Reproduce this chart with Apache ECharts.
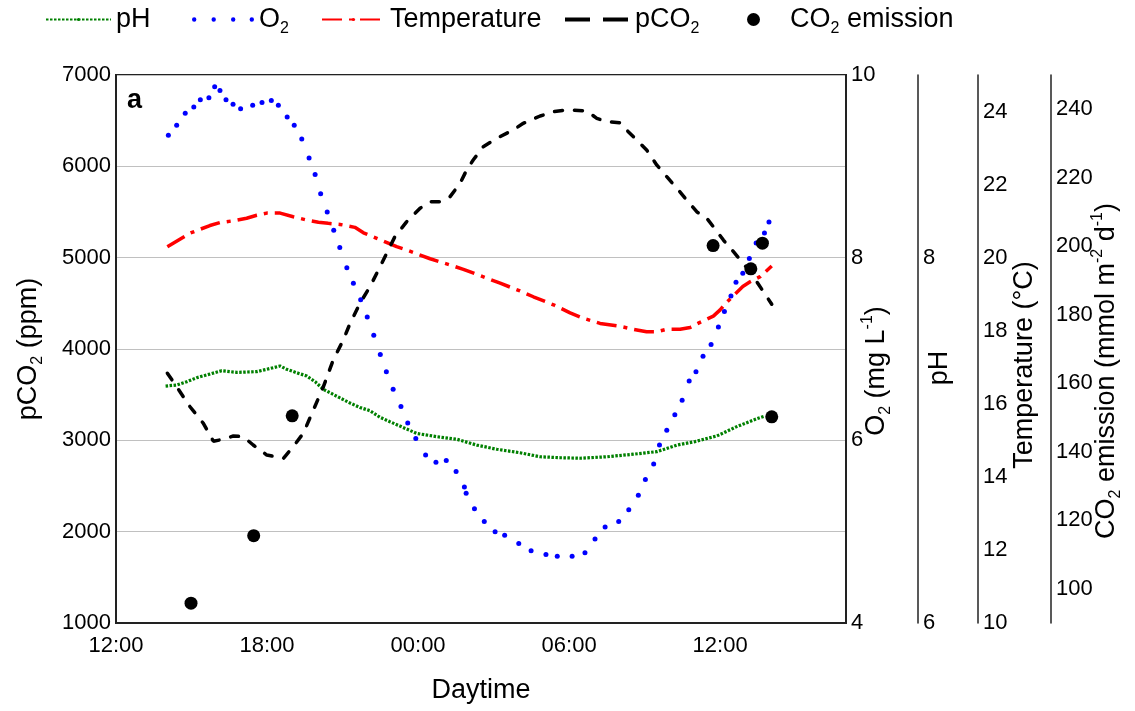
<!DOCTYPE html>
<html><head><meta charset="utf-8">
<script src="https://cdn.jsdelivr.net/npm/echarts@6/dist/echarts.min.js"></script>
<style>html,body{margin:0;padding:0;background:#fff}#c{width:1135px;height:711px}</style>
</head><body><div id="c"></div>
<script>
const FONT = "'Liberation Sans', Arial, sans-serif";

// x: hours after 12:00 of day 1
const xTickHours = [0, 6, 12, 18, 24];
const xTickLabels = ['12:00', '18:00', '00:00', '06:00', '12:00'];

const phHours = [1.97,2.41,2.81,3.21,3.60,4.20,4.80,5.59,5.99,6.52,6.78,7.18,7.58,7.91,8.24,8.50,8.90,9.30,9.69,10.09,10.49,10.88,11.28,11.95,12.74,13.54,14.33,15.13,16.05,16.85,17.64,18.43,19.50,20.55,21.48,22.28,23.00,23.87,24.66,25.45,25.78];
const phValues = [7.297,7.303,7.321,7.343,7.358,7.381,7.372,7.376,7.389,7.407,7.389,7.370,7.352,7.321,7.279,7.261,7.232,7.204,7.180,7.162,7.126,7.102,7.078,7.038,7.020,7.006,6.974,6.951,6.932,6.910,6.905,6.902,6.910,6.924,6.938,6.974,6.993,7.024,7.075,7.118,7.133];

const o2Hours = [2.08,2.41,2.75,3.09,3.35,3.69,3.92,4.13,4.37,4.65,4.95,5.43,5.80,6.17,6.45,6.80,7.08,7.38,7.67,7.91,8.13,8.39,8.65,8.89,9.17,9.43,9.72,9.98,10.24,10.50,10.74,11.01,11.32,11.59,11.91,12.30,12.71,13.12,13.51,13.84,13.91,14.24,14.63,15.06,15.44,16.00,16.49,17.08,17.53,18.12,18.63,19.03,19.43,19.97,20.37,20.75,21.03,21.36,21.59,21.88,22.20,22.49,22.77,23.04,23.32,23.64,23.93,24.17,24.43,24.63,24.90,25.16,25.43,25.76,25.94];
const o2Values = [9.34,9.45,9.58,9.65,9.73,9.75,9.87,9.83,9.73,9.68,9.63,9.67,9.70,9.72,9.67,9.54,9.45,9.30,9.09,8.91,8.70,8.50,8.30,8.11,7.89,7.72,7.54,7.35,7.15,6.94,6.75,6.56,6.37,6.19,6.02,5.84,5.76,5.78,5.66,5.49,5.42,5.25,5.11,5.00,4.96,4.87,4.79,4.75,4.73,4.73,4.77,4.92,5.05,5.11,5.24,5.40,5.57,5.74,5.95,6.11,6.28,6.44,6.65,6.75,6.92,7.05,7.24,7.41,7.58,7.73,7.83,7.99,8.16,8.27,8.39];

const tempHours = [2.04,2.94,3.73,4.13,4.66,5.19,5.59,5.99,6.52,7.04,7.58,8.04,8.43,8.90,9.49,9.83,10.36,11.15,11.55,12.48,13.27,13.80,14.73,15.26,16.05,16.58,17.38,18.04,18.57,19.23,19.96,20.55,21.08,21.48,21.88,22.41,22.81,23.20,23.73,24.00,24.26,24.53,24.90,25.19,25.59,26.05];
const tempValues = [20.30,20.67,20.88,20.96,21.01,21.08,21.16,21.22,21.22,21.12,21.03,20.97,20.94,20.91,20.83,20.68,20.53,20.30,20.21,19.97,19.80,19.68,19.44,19.30,19.09,18.93,18.71,18.49,18.34,18.20,18.13,18.04,17.97,17.97,18.04,18.04,18.09,18.23,18.40,18.57,18.78,18.96,19.21,19.34,19.48,19.77];

const pco2Hours = [2.04,2.41,2.94,3.47,3.87,4.13,4.66,5.06,5.45,5.99,6.65,7.04,7.44,7.84,8.24,8.63,9.03,9.30,9.69,10.09,10.49,10.82,11.08,11.55,12.08,12.48,12.87,13.27,13.67,13.93,14.19,14.59,15.13,15.78,16.18,16.85,17.37,17.91,18.70,19.10,19.50,20.02,20.35,20.69,21.08,21.48,21.88,22.28,22.67,23.07,23.47,23.73,24.13,24.53,24.92,25.32,25.72,26.05];
const pco2Values = [3734,3587,3368,3186,2990,3004,3047,3040,2949,2839,2803,2930,3077,3332,3587,3880,4099,4281,4500,4682,4901,5084,5230,5394,5541,5613,5613,5668,5814,5960,6069,6215,6307,6398,6471,6551,6598,6617,6606,6526,6489,6478,6379,6288,6179,6015,5887,5760,5632,5503,5431,5339,5193,5065,4938,4792,4627,4490];

const emHours = [2.98,5.47,7.00,23.72,25.22,25.68,26.05];
const emValues = [95.8,115.5,150.5,200.2,193.4,200.9,150.2];

const zip = (a, b) => a.map((v, i) => [v, b[i]]);

const rich = {
  t: {fontSize: 27, fontFamily: FONT, color: '#000', lineHeight: 34},
  s: {fontSize: 16, fontFamily: FONT, color: '#000', lineHeight: 16, verticalAlign: 'bottom'},
  u: {fontSize: 16, fontFamily: FONT, color: '#000', lineHeight: 16, verticalAlign: 'top'},
  g: {width: 25}
};
const legendText = {
  'pH': '{t|pH}',
  'O2': '{t|O}{s|2}',
  'Temperature': '{t|Temperature}',
  'pCO2': '{t|pCO}{s|2}',
  'CO2 emission': '{g|}{t|CO}{s|2}{t| emission}'
};
const o2Icon = 'path://M0,2.2a2.2,2.2 0 1,0 4.4,0a2.2,2.2 0 1,0 -4.4,0z M19.5,2.2a2.2,2.2 0 1,0 4.4,0a2.2,2.2 0 1,0 -4.4,0z M39,2.2a2.2,2.2 0 1,0 4.4,0a2.2,2.2 0 1,0 -4.4,0z M57.6,2.2a2.2,2.2 0 1,0 4.4,0a2.2,2.2 0 1,0 -4.4,0z';
const pco2Icon = 'path://M0,0h25v4h-25z M38,0h25v4h-25z';

const labelStyle = {fontSize: 22, color: '#000', fontFamily: FONT};
const axLine = w => ({show: true, lineStyle: {color: '#222', width: w}});
const nameStyle = extra => Object.assign({rich: rich}, extra || {});

function legendBox(name, left, w, h, extra) {
  return Object.assign({
    data: [name], left: left, top: 6, itemWidth: w, itemHeight: h,
    selectedMode: false, padding: 0,
    formatter: n => legendText[n],
    textStyle: {rich: rich}
  }, extra || {});
}

const chart = echarts.init(document.getElementById('c'), null, {renderer: 'canvas'});
chart.setOption({
  animation: false,
  backgroundColor: '#fff',
  grid: {left: 116, right: 289, top: 75, bottom: 88, show: true, borderColor: '#222', borderWidth: 2, backgroundColor: 'transparent'},
  legend: [
    legendBox('pH', 45, 65, 4),
    legendBox({name: 'O2', icon: o2Icon}, 192, 62, 4.4),
    legendBox('Temperature', 321, 63, 4),
    legendBox({name: 'pCO2', icon: pco2Icon}, 565, 67, 4),
    legendBox('CO2 emission', 747, 13, 13)
  ],
  graphic: [{type: 'text', left: 127, top: 87, style: {text: 'a', font: 'bold 27px ' + FONT, fill: '#000'}}],
  xAxis: {
    type: 'value', min: 0, max: 29, interval: 6,
    axisLine: axLine(2), axisTick: {show: false}, splitLine: {show: false},
    axisLabel: Object.assign({margin: 12, formatter: v => { const i = xTickHours.indexOf(v); return i >= 0 ? xTickLabels[i] : ''; }}, labelStyle),
    name: '{t|Daytime}', nameLocation: 'middle', nameGap: 51, nameTextStyle: nameStyle(), nameMoveOverlap: false
  },
  yAxis: [
    {type: 'value', position: 'left', min: 1000, max: 7000, interval: 1000,
      axisLine: axLine(2), axisTick: {show: false},
      axisLabel: Object.assign({margin: 5, formatter: v => String(v)}, labelStyle),
      splitLine: {show: true, lineStyle: {color: '#c0c0c0', width: 1}},
      name: '{t|pCO}{s|2}{t| (ppm)}', nameLocation: 'middle', nameRotate: 90, nameGap: 70, nameTextStyle: nameStyle(), nameMoveOverlap: false},
    {type: 'value', position: 'right', offset: 0, min: 4, max: 10, interval: 2,
      axisLine: axLine(2), axisTick: {show: false}, splitLine: {show: false},
      axisLabel: Object.assign({margin: 5, formatter: v => String(v)}, labelStyle),
      name: '{t|O}{s|2}{t| (mg L}{u|-1}{t|)}', nameLocation: 'middle', nameRotate: 90, nameGap: 14, nameTextStyle: nameStyle({padding: [0, 44, 0, 0]}), nameMoveOverlap: false},
    {type: 'value', position: 'right', offset: 72, min: 6, max: 9, interval: 2,
      axisLine: axLine(1.5), axisTick: {show: false}, splitLine: {show: false},
      axisLabel: Object.assign({margin: 5, showMaxLabel: false, formatter: v => (v % 2 === 0 ? String(v) : '')}, labelStyle),
      name: '{t|pH}', nameLocation: 'middle', nameRotate: 90, nameGap: 5, nameTextStyle: nameStyle({padding: [0, 38, 0, 0]}), nameMoveOverlap: false},
    {type: 'value', position: 'right', offset: 132, min: 10, max: 25, interval: 2,
      axisLine: axLine(1.5), axisTick: {show: false}, splitLine: {show: false},
      axisLabel: Object.assign({margin: 5, showMaxLabel: false, formatter: v => (v % 2 === 0 ? String(v) : '')}, labelStyle),
      name: '{t|Temperature (°C)}', nameLocation: 'middle', nameRotate: 90, nameGap: 30, nameTextStyle: nameStyle({padding: [0, 32, 0, 0]}), nameMoveOverlap: false},
    {type: 'value', position: 'right', offset: 205, min: 90, max: 250, interval: 10,
      axisLine: axLine(1.5), axisTick: {show: false}, splitLine: {show: false},
      axisLabel: Object.assign({margin: 5, showMaxLabel: false, showMinLabel: false, formatter: v => (v % 20 === 0 && v >= 100 && v <= 240 ? String(v) : '')}, labelStyle),
      name: '{t|CO}{s|2}{t| emission (mmol m}{u|-2}{t| d}{u|-1}{t|)}', nameLocation: 'middle', nameRotate: 90, nameGap: 39, nameTextStyle: nameStyle({padding: [0, 44, 0, 0]}), nameMoveOverlap: false}
  ],
  series: [
    {name: 'pH', type: 'line', yAxisIndex: 2, data: zip(phHours, phValues), symbol: 'none', silent: true,
      lineStyle: {color: '#008000', width: 3.2, type: [2.5, 1.5]}, itemStyle: {color: '#008000'}},
    {name: 'O2', type: 'line', yAxisIndex: 1, data: zip(o2Hours, o2Values), symbol: 'circle', symbolSize: 5, showSymbol: true, showAllSymbol: true, silent: true,
      lineStyle: {opacity: 0, width: 0}, itemStyle: {color: '#0000ff', opacity: 1}},
    {name: 'Temperature', type: 'line', yAxisIndex: 3, data: zip(tempHours, tempValues), symbol: 'none', silent: true,
      lineStyle: {color: '#ff0000', width: 3.5, type: [20, 7, 4, 7]}, itemStyle: {color: '#ff0000'}},
    {name: 'pCO2', type: 'line', yAxisIndex: 0, data: zip(pco2Hours, pco2Values), symbol: 'none', silent: true,
      lineStyle: {color: '#000', width: 3.5, type: [8, 12], cap: 'round'}, itemStyle: {color: '#000'}},
    {name: 'CO2 emission', type: 'scatter', yAxisIndex: 4, data: zip(emHours, emValues), symbol: 'circle', symbolSize: 13, silent: true,
      itemStyle: {color: '#000', opacity: 1}, z: 5}
  ]
});
</script></body></html>
